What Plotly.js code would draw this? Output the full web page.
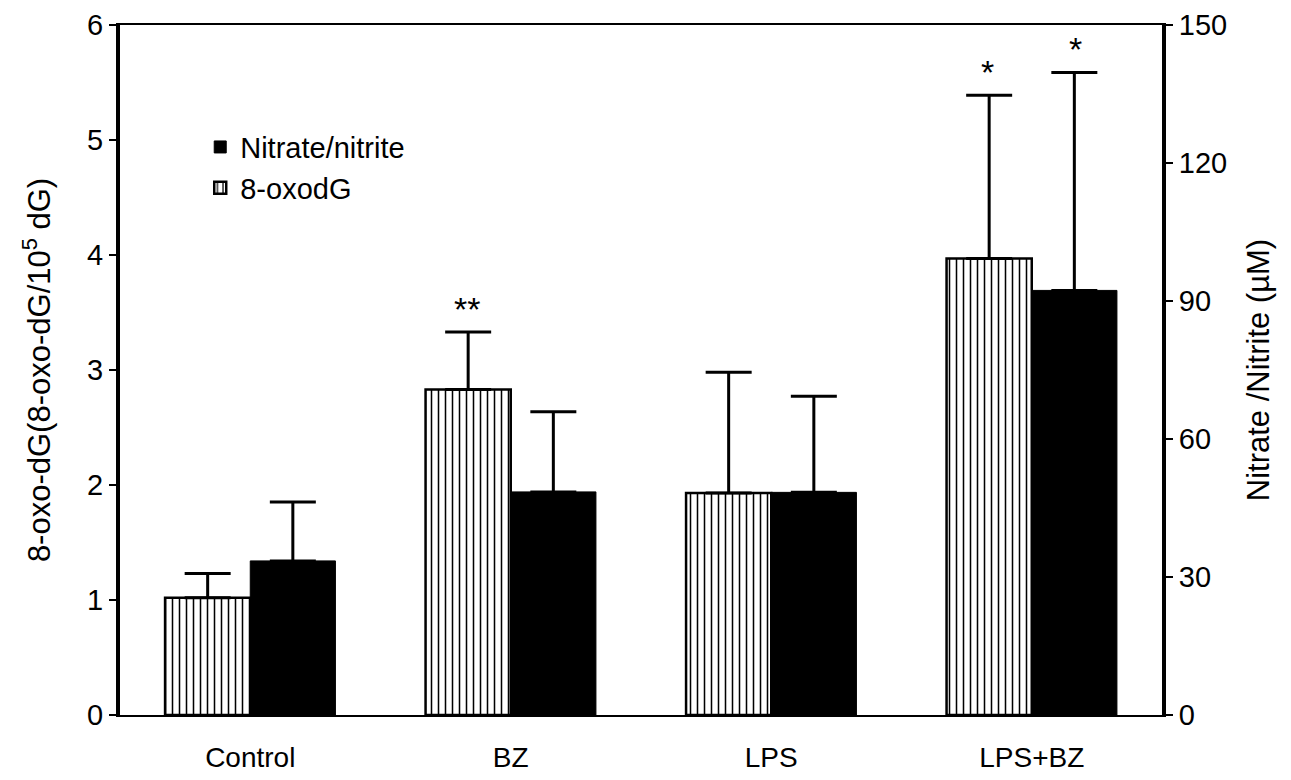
<!DOCTYPE html>
<html>
<head>
<meta charset="utf-8">
<script src="https://cdn.plot.ly/plotly-3.0.1.min.js"></script>
<style>html,body{margin:0;padding:0;background:#fff;}#chart{width:1291px;height:780px;}</style>
</head>
<body>
<div id="chart"></div>
<script>
// Data
const categories = ["Control", "BZ", "LPS", "LPS+BZ"];
const oxodG = [1.02, 2.83, 1.93, 3.97];          // 8-oxo-dG / 10^5 dG
const oxodGErr = [0.21, 0.50, 1.05, 1.42];
const nitrate = [33.5, 48.5, 48.4, 92.3];         // µM
const nitrateErr = [12.8, 17.4, 20.9, 47.4];
const oxodGMarks = ["", "**", "", "*"];
const nitrateMarks = ["", "", "", "*"];
const leftTicks = [0, 1, 2, 3, 4, 5, 6];
const rightTicks = [0, 30, 60, 90, 120, 150];

const FONT = "Liberation Sans, Arial, Helvetica, sans-serif";

const traceOxo = {
  type: "bar", name: "8-oxodG", x: categories, y: oxodG,
  xaxis: "x", yaxis: "y",
  width: 0.327, offset: -0.327,
  marker: {
    color: "white",
    line: {color: "black", width: 2.5},
    pattern: {shape: "|", size: 7, solidity: 0.22, fgcolor: "black", bgcolor: "white", fillmode: "replace"}
  },
  error_y: {type: "data", symmetric: false, array: oxodGErr, arrayminus: oxodGErr.map(() => 0),
            color: "black", thickness: 3, width: 23}
};
const traceNit = {
  type: "bar", name: "Nitrate/nitrite", x: categories, y: nitrate,
  xaxis: "x", yaxis: "y2",
  width: 0.327, offset: 0,
  marker: {color: "black", line: {color: "black", width: 1}},
  error_y: {type: "data", symmetric: false, array: nitrateErr, arrayminus: nitrateErr.map(() => 0),
            color: "black", thickness: 3, width: 23}
};

const annotations = [];
categories.forEach((c, i) => {
  if (oxodGMarks[i]) annotations.push({
    x: c, xref: "x", xshift: -44, y: oxodG[i] + oxodGErr[i], yref: "y",
    yanchor: "bottom", yshift: 2, text: oxodGMarks[i], showarrow: false,
    font: {family: FONT, size: 34, color: "black"}
  });
  if (nitrateMarks[i]) annotations.push({
    x: c, xref: "x", xshift: 44, y: nitrate[i] + nitrateErr[i], yref: "y2",
    yanchor: "bottom", yshift: 2, text: nitrateMarks[i], showarrow: false,
    font: {family: FONT, size: 34, color: "black"}
  });
});

const layout = {
  width: 1291, height: 780,
  margin: {l: 120, r: 129, t: 25, b: 65},
  paper_bgcolor: "white", plot_bgcolor: "white",
  font: {family: FONT, size: 28, color: "black"},
  showlegend: true,
  legend: {
    x: 0.077, y: 0.86, xanchor: "left", yanchor: "top",
    traceorder: "reversed", font: {family: FONT, size: 29, color: "black"},
    bgcolor: "rgba(0,0,0,0)", itemwidth: 30, tracegroupgap: 4
  },
  xaxis: {
    range: [-0.5, 3.5], type: "category", showgrid: false, zeroline: false,
    showline: true, linecolor: "black", linewidth: 2, mirror: true,
    ticks: "", ticklabelstandoff: 16,
    tickfont: {family: FONT, size: 28, color: "black"}
  },
  yaxis: {
    range: [0, 6], tickvals: leftTicks, ticktext: leftTicks.map(String),
    showgrid: false, zeroline: false,
    showline: true, linecolor: "black", linewidth: 4,
    ticks: "outside", ticklen: 7, tickwidth: 2, tickcolor: "black",
    tickfont: {family: FONT, size: 29, color: "black"},
    title: {text: "8-oxo-dG(8-oxo-dG/10<sup>5</sup> dG)", font: {family: FONT, size: 31, color: "black"}, standoff: 28}
  },
  yaxis2: {
    range: [0, 150], tickvals: rightTicks, ticktext: rightTicks.map(String),
    overlaying: "y", side: "right", anchor: "x",
    showgrid: false, zeroline: false,
    showline: true, linecolor: "black", linewidth: 4,
    ticks: "outside", ticklen: 7, tickwidth: 2, tickcolor: "black",
    tickfont: {family: FONT, size: 29, color: "black"},
    title: {text: "Nitrate /Nitrite (µM)", font: {family: FONT, size: 31, color: "black"}, standoff: 22}
  },
  annotations: annotations
};

Plotly.newPlot("chart", [traceOxo, traceNit], layout, {displayModeBar: false, staticPlot: true});
</script>
</body>
</html>
